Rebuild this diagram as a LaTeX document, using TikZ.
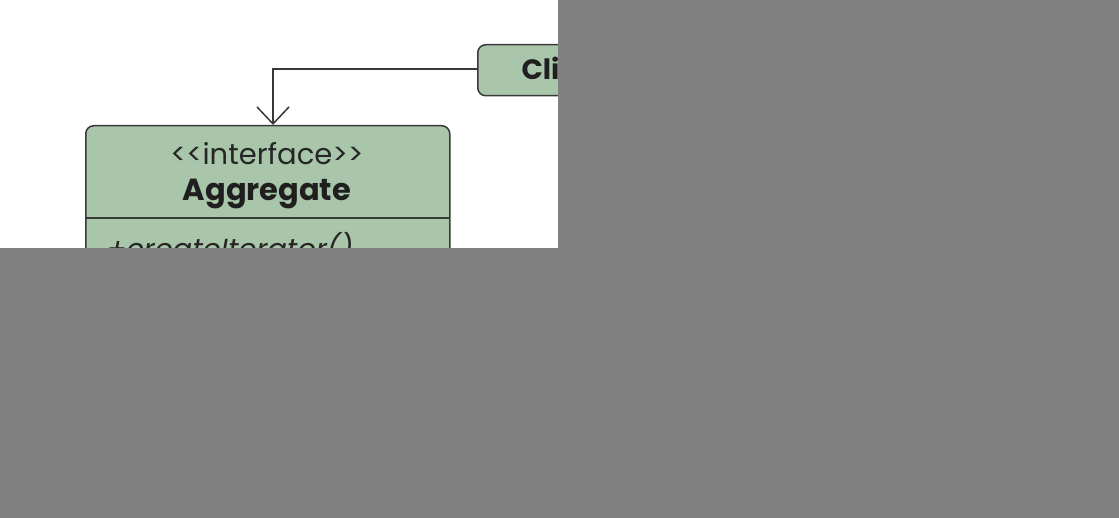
\documentclass[tikz,border=0pt]{standalone}
\usepackage{fontspec}
\setmainfont{Poppins}
\usetikzlibrary{arrows.meta,calc}
\definecolor{boxfill}{RGB}{169,198,170}
\definecolor{boxline}{RGB}{55,58,55}
\definecolor{maskgray}{RGB}{128,128,128}
\tikzset{
  umlbox/.style={draw=boxline, fill=boxfill, line width=1.5pt, rounded corners=8pt, inner sep=0pt},
  conn/.style={draw=boxline, line width=1.5pt},
  openarrow/.style={-{Straight Barb[length=17pt,width=32pt,line width=1.5pt]}},
  stereo/.style={font=\fontsize{29}{32}\selectfont, text=black!85},
  cname/.style={font=\fontsize{30.5}{34}\selectfont\bfseries, text=black!88},
  clname/.style={font=\fontsize{28}{32}\selectfont\bfseries, text=black!88},
  method/.style={font=\fontsize{29}{32}\selectfont\itshape, text=black!85},
  mask/.style={fill=maskgray, draw=none}
}
\begin{document}
\begin{tikzpicture}[x=1pt,y=-1pt]
\useasboundingbox (0,0) rectangle (1119,518);
\fill[white] (0,0) rectangle (1119,518);
% Aggregate
\node[umlbox, minimum width=364pt, minimum height=230pt, anchor=north west] (agg) at (85,125) {};
\draw[conn] (85,218) coordinate (dl) -- (449,218) coordinate (dr);
\node[stereo, anchor=base] (aggst) at (267,165) {{<}{<}interface{>}{>}};
\node[cname, anchor=base] (aggnm) at (267,201) {Aggregate};
\node[method, anchor=base west] (aggm) at (103,260) {+createIterator()};
% Client
\node[umlbox, minimum width=170pt, minimum height=51pt, anchor=north west] (client) at (477,44) {};
\node[clname, anchor=base west] (clientnm) at (518,80) {Client};
% connector
\coordinate (bend) at (273,69);
\draw[conn, openarrow] (client.west |- bend) -- (bend) -- (bend |- agg.north);
% masks
\fill[mask] (558,0) rectangle (1119,248);
\fill[mask] (0,248) rectangle (1119,518);
\end{tikzpicture}
\end{document}
